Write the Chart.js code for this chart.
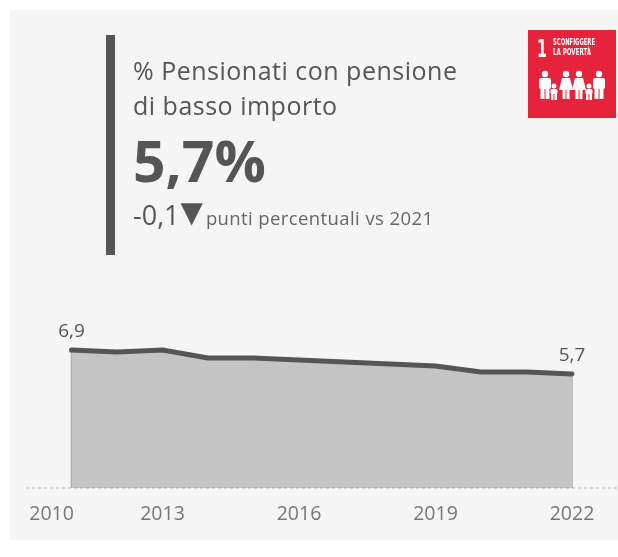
<!DOCTYPE html>
<html>
<head>
<meta charset="utf-8">
<script src="https://cdn.jsdelivr.net/npm/chart.js@4"></script>
<style>
  html, body { margin: 0; padding: 0; background: #fff; }
  body { width: 618px; height: 557px; position: relative; overflow: hidden; font-family: "Open Sans", sans-serif; color: #555; }
  #panel { position: absolute; left: 10px; top: 10px; width: 608px; height: 530px; background: #f5f5f5; }
  #chart { position: absolute; left: 0; top: 0; }
  #bar { position: absolute; left: 106px; top: 35px; width: 9px; height: 220px; background: #555; }
  .txt { position: absolute; white-space: nowrap; }
  #title { left: 133px; top: 53px; font-size: 25px; line-height: 34.5px; letter-spacing: 0.5px; }
  #big { left: 133px; top: 124px; font-size: 57px; line-height: 72px; font-weight: 700; }
  #delta { left: 133px; top: 197px; font-size: 27px; line-height: 36px; }
  #delta .arrow { font-family: "DejaVu Sans", sans-serif; font-size: 29px; position: relative; top: -3px; margin-left: 1px; }
  #delta .note { font-size: 18.5px; letter-spacing: 0.4px; color: #666; margin-left: 3px; }
  #badge { position: absolute; left: 528px; top: 30px; }
</style>
</head>
<body>
<div id="panel"></div>
<canvas id="chart" width="618" height="557"></canvas>
<div id="bar"></div>
<div class="txt" id="title">% Pensionati con pensione<br>di basso importo</div>
<div class="txt" id="big">5,7%</div>
<div class="txt" id="delta">-0,1<span class="arrow">▼</span><span class="note">punti percentuali vs 2021</span></div>
<svg id="badge" width="88" height="88" viewBox="0 0 88 88">
  <defs><filter id="soft"><feGaussianBlur stdDeviation="0.5"/></filter></defs>
  <rect width="88" height="88" fill="#e5243b"/>
  <g filter="url(#soft)" fill="#fff">
    <text x="9" y="27" font-family="DejaVu Sans Condensed" font-weight="700" font-size="25" textLength="10" lengthAdjust="spacingAndGlyphs">1</text>
    <text x="25" y="15" font-family="DejaVu Sans Condensed" font-weight="700" font-size="8" textLength="42" lengthAdjust="spacingAndGlyphs">SCONFIGGERE</text>
    <text x="25" y="25" font-family="DejaVu Sans Condensed" font-weight="700" font-size="8" textLength="38" lengthAdjust="spacingAndGlyphs">LA POVERTÀ</text>
    <circle cx="17" cy="44" r="3.2"/><rect x="11" y="48" width="12" height="11" rx="2"/><rect x="12.5" y="59" width="4" height="10"/><rect x="17.5" y="59" width="4" height="10"/>
    <circle cx="26" cy="56" r="2.5"/><rect x="22.5" y="59" width="7" height="5" rx="1.5"/><rect x="23" y="64" width="2.5" height="6"/><rect x="26.5" y="64" width="2.5" height="6"/>
    <circle cx="38" cy="44" r="3.2"/><path d="M34 48h8l3 12h-14z"/><rect x="34.5" y="60" width="3" height="9"/><rect x="38.5" y="60" width="3" height="9"/>
    <circle cx="51" cy="44" r="3.2"/><path d="M47 48h8l3 12h-14z"/><rect x="47.5" y="60" width="3" height="9"/><rect x="51.5" y="60" width="3" height="9"/>
    <circle cx="61" cy="56" r="2.5"/><rect x="57.5" y="59" width="7" height="5" rx="1.5"/><rect x="58" y="64" width="2.5" height="6"/><rect x="61.5" y="64" width="2.5" height="6"/>
    <circle cx="71" cy="44" r="3.2"/><rect x="65" y="48" width="12" height="11" rx="2"/><rect x="66.5" y="59" width="4" height="10"/><rect x="71.5" y="59" width="4" height="10"/>
  </g>
</svg>
<script>
// --- Data ---
const years = [2011, 2012, 2013, 2014, 2015, 2016, 2017, 2018, 2019, 2020, 2021, 2022];
const values = [6.9, 6.8, 6.9, 6.5, 6.5, 6.4, 6.3, 6.2, 6.1, 5.8, 5.8, 5.7];
const axisRange = [2010, 2023];
const tickYears = [2010, 2013, 2016, 2019, 2022, 2023];
const tickLabels = ["2010", "2013", "2016", "2019", "2022", ""];

const points = years.map((y, i) => ({ x: y, y: values[i] }));
const last = years.length - 1;
const fontName = '"Open Sans", sans-serif';

// Value labels on the first and last point
const endLabels = {
  id: "endLabels",
  afterDatasetsDraw(chart) {
    const { ctx, scales } = chart;
    ctx.save();
    ctx.font = "19px " + fontName;
    ctx.fillStyle = "#555";
    ctx.textAlign = "center";
    ctx.textBaseline = "middle";
    [0, last].forEach((i) => {
      const text = String(values[i]).replace(".", ",");
      ctx.fillText(text, scales.x.getPixelForValue(years[i]), scales.y.getPixelForValue(values[i]) - 18.5);
    });
    ctx.restore();
  },
};

new Chart(document.getElementById("chart"), {
  type: "line",
  data: {
    datasets: [
      {
        data: [{ x: axisRange[0], y: 0 }, { x: axisRange[1], y: 0 }],
        borderColor: "rgba(90,90,90,0.4)",
        borderWidth: 1,
        borderDash: [3, 3],
        pointRadius: 0,
        clip: false,
        order: 0,
      },
      {
        data: [{ x: years[0], y: 0 }, { x: years[0], y: values[0] }],
        borderColor: "#a9a9a9",
        borderWidth: 1.5,
        pointRadius: 0,
        clip: false,
        order: 2,
      },
      {
        data: [{ x: years[last], y: 0 }, { x: years[last], y: values[last] }],
        borderColor: "#a9a9a9",
        borderWidth: 1.5,
        pointRadius: 0,
        clip: false,
        order: 2,
      },
      {
        data: points,
        borderColor: "#555",
        borderWidth: 5,
        borderCapStyle: "round",
        borderJoinStyle: "round",
        backgroundColor: "#c4c4c4",
        fill: "origin",
        pointRadius: 0,
        tension: 0,
        clip: false,
        order: 1,
      },
    ],
  },
  options: {
    responsive: false,
    animation: false,
    layout: { padding: { left: 26, right: 0.5, top: 328, bottom: 0 } },
    plugins: { legend: { display: false }, tooltip: { enabled: false } },
    scales: {
      x: {
        type: "linear",
        min: axisRange[0],
        max: axisRange[1],
        afterBuildTicks(axis) {
          axis.ticks = tickYears.map((v) => ({ value: v }));
        },
        afterFit(axis) {
          axis.paddingLeft = 0;
          axis.paddingRight = 0;
          axis.height = 69;
        },
        grid: { display: false, drawTicks: false },
        border: { display: false },
        ticks: {
          align: "inner",
          autoSkip: false,
          maxRotation: 0,
          padding: 15,
          color: "#777",
          font: { family: fontName, size: 19.5 },
          // thin space nudges the first label off the axis start
          callback: (v) => (v === tickYears[0] ? "\u2009" : "") + tickLabels[tickYears.indexOf(v)],
        },
      },
      y: { display: false, min: 0, max: 8 },
    },
  },
  plugins: [endLabels],
});
</script>
</body>
</html>
